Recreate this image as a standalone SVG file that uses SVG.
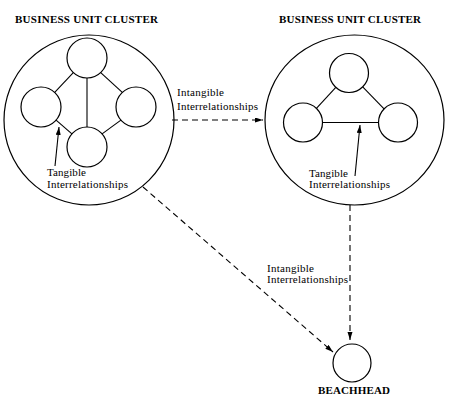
<svg xmlns="http://www.w3.org/2000/svg" width="452" height="404" viewBox="0 0 452 404">
<style>
.c{fill:none;stroke:#000;stroke-width:1.2}
.l{stroke:#000;stroke-width:1.1;fill:none}
.d{stroke:#000;stroke-width:1.1;fill:none;stroke-dasharray:6 4}
.t{font-family:"Liberation Serif","Times New Roman",serif;font-size:11px;fill:#000}
.h{font-family:"Liberation Serif","Times New Roman",serif;font-size:11px;font-weight:bold;fill:#000}
</style>
<defs>
<marker id="a" markerWidth="9" markerHeight="6" refX="8" refY="2.5" orient="auto" markerUnits="userSpaceOnUse">
<path d="M0,0 L8,2.5 L0,5 z" fill="#000"/>
</marker>
</defs>
<rect width="452" height="404" fill="#fff"/>
<g id="cluster1">
<text class="h" x="15" y="23" textLength="143" lengthAdjust="spacing">BUSINESS UNIT CLUSTER</text>
<circle class="c" cx="89" cy="120" r="85"/>
<circle class="c" cx="87" cy="58" r="20"/>
<circle class="c" cx="41" cy="107" r="20"/>
<circle class="c" cx="136" cy="107" r="20"/>
<circle class="c" cx="87" cy="147" r="20"/>
<line class="l" x1="73.3" y1="72.6" x2="54.7" y2="92.4"/>
<line class="l" x1="100.7" y1="72.6" x2="122.3" y2="92.4"/>
<line class="l" x1="87" y1="78" x2="87" y2="127"/>
<line class="l" x1="56.1" y1="120.1" x2="71.9" y2="133.9"/>
<line class="l" x1="120.9" y1="120.1" x2="102.1" y2="133.9"/>
<line class="l" x1="55" y1="166" x2="59" y2="127" marker-end="url(#a)"/>
<text class="t" x="47" y="176" textLength="39" lengthAdjust="spacing">Tangible</text>
<text class="t" x="47" y="188" textLength="81" lengthAdjust="spacing">Interrelationships</text>
</g>
<g id="cluster2">
<text class="h" x="279" y="23" textLength="142" lengthAdjust="spacing">BUSINESS UNIT CLUSTER</text>
<ellipse class="c" cx="354.5" cy="120" rx="89.5" ry="85"/>
<circle class="c" cx="349" cy="73" r="19.5"/>
<circle class="c" cx="303" cy="122.5" r="19.5"/>
<circle class="c" cx="398" cy="122.5" r="19.5"/>
<line class="l" x1="335.8" y1="87.3" x2="316.2" y2="108.7"/>
<line class="l" x1="362.7" y1="86.9" x2="384.3" y2="109.1"/>
<line class="l" x1="322.5" y1="122.5" x2="378.5" y2="122.5"/>
<line class="l" x1="355" y1="176" x2="360" y2="125" marker-end="url(#a)"/>
<text class="t" x="309" y="177" textLength="39" lengthAdjust="spacing">Tangible</text>
<text class="t" x="309" y="188" textLength="81" lengthAdjust="spacing">Interrelationships</text>
</g>
<g id="beachhead">
<circle class="c" cx="352" cy="363" r="19"/>
<text class="h" x="318" y="394" textLength="72" lengthAdjust="spacing">BEACHHEAD</text>
</g>
<g id="connectors">
<line class="d" x1="172" y1="120" x2="263" y2="120" marker-end="url(#a)"/>
<text class="t" x="177" y="96" textLength="47" lengthAdjust="spacing">Intangible</text>
<text class="t" x="177" y="110" textLength="81" lengthAdjust="spacing">Interrelationships</text>
<line class="d" x1="350" y1="205" x2="350" y2="340" marker-end="url(#a)"/>
<line class="d" x1="143" y1="187" x2="333" y2="352" marker-end="url(#a)"/>
<text class="t" x="267" y="272" textLength="47" lengthAdjust="spacing">Intangible</text>
<text class="t" x="267" y="283" textLength="81" lengthAdjust="spacing">Interrelationships</text>
</g>
</svg>
